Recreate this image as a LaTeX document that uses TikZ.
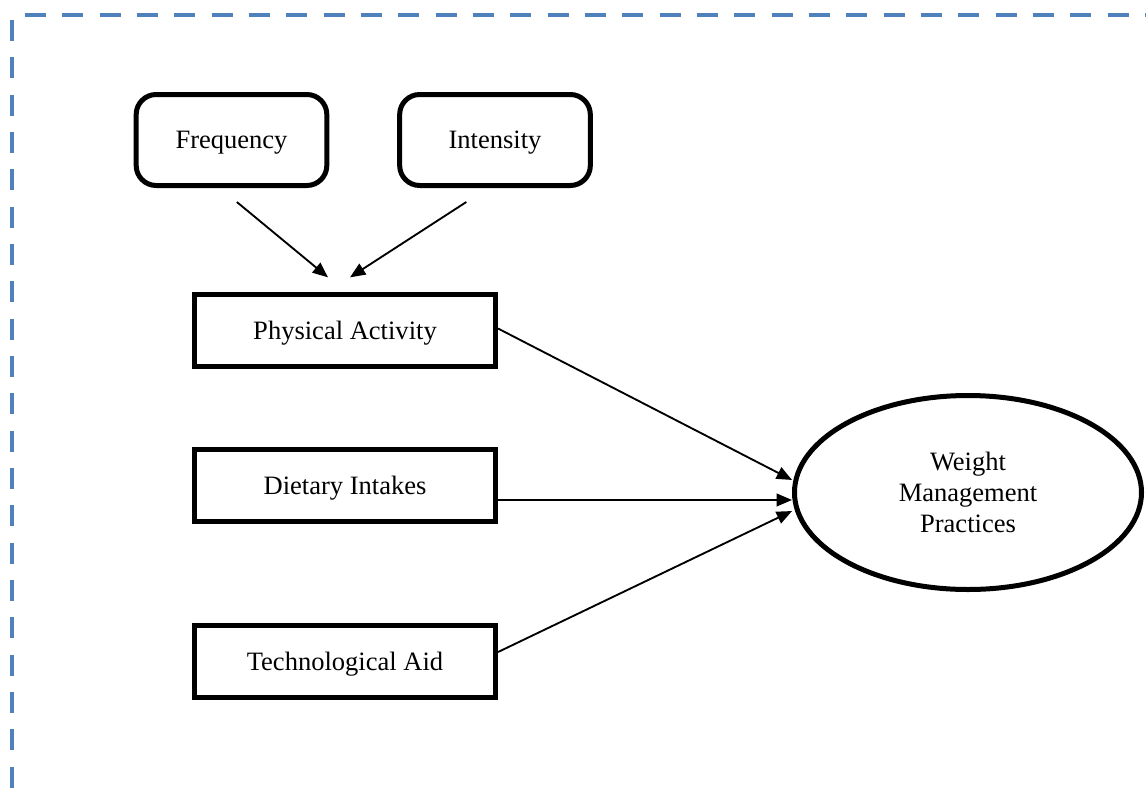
\documentclass[tikz,border=0pt]{standalone}
\usepackage{fontspec}
\setmainfont{Liberation Serif}
\usetikzlibrary{arrows.meta,shapes.geometric}
\definecolor{wordblue}{RGB}{79,129,189}
\begin{document}
\begin{tikzpicture}[x=0.75pt,y=-0.75pt,
  every node/.style={font=\fontsize{19.9}{23.5}\selectfont},
  roundbox/.style={draw,line width=3.75pt,rounded corners=15pt,minimum width=143pt,minimum height=68.25pt,inner sep=0pt,text depth=0pt},
  sqbox/.style={draw,line width=3.75pt,minimum width=225.75pt,minimum height=54pt,inner sep=0pt,text depth=0pt},
  oval/.style={draw,ellipse,line width=3.75pt,minimum width=260.25pt,minimum height=145.5pt,inner sep=0pt,align=center},
  arr/.style={line width=1.4pt,-{Triangle[length=11.5pt,width=9.5pt]}},
  frame/.style={draw=wordblue,line width=3pt,dash pattern=on 15.75pt off 12.25pt}
]
\useasboundingbox (0,0) rectangle (1146,789);
\clip (0,0) rectangle (1146,789);
\draw[frame] (25,15) -- (1200,15);
\draw[frame] (12,20) -- (12,840);

\node[roundbox] (freq) at (231.5,140) {Frequency};
\node[roundbox] (inten) at (495,140) {Intensity};
\node[sqbox] (pa) at (345,330.5) {Physical Activity};
\node[sqbox] (di) at (345,485) {Dietary Intakes};
\node[sqbox] (ta) at (345,661.5) {Technological Aid};
\node[oval] (wmp) at (968,492.5) {Weight\\Management\\Practices};

\draw[arr] ([shift={(4pt,-10.5pt)}]freq.south) -- ([shift={(-12.75pt,11pt)}]pa.north);
\draw[arr] ([shift={(-21.5pt,-10.5pt)}]inten.south) -- ([shift={(3.75pt,11pt)}]pa.north);
\draw[arr] ([yshift=1.5pt]pa.east) -- ([yshift=9.4pt]wmp.west);
\draw[arr] ([yshift=-11.25pt]di.east) -- ([yshift=-5.6pt]wmp.west);
\draw[arr] ([yshift=7.1pt]ta.east) -- ([yshift=-13.9pt]wmp.west);
\end{tikzpicture}
\end{document}
